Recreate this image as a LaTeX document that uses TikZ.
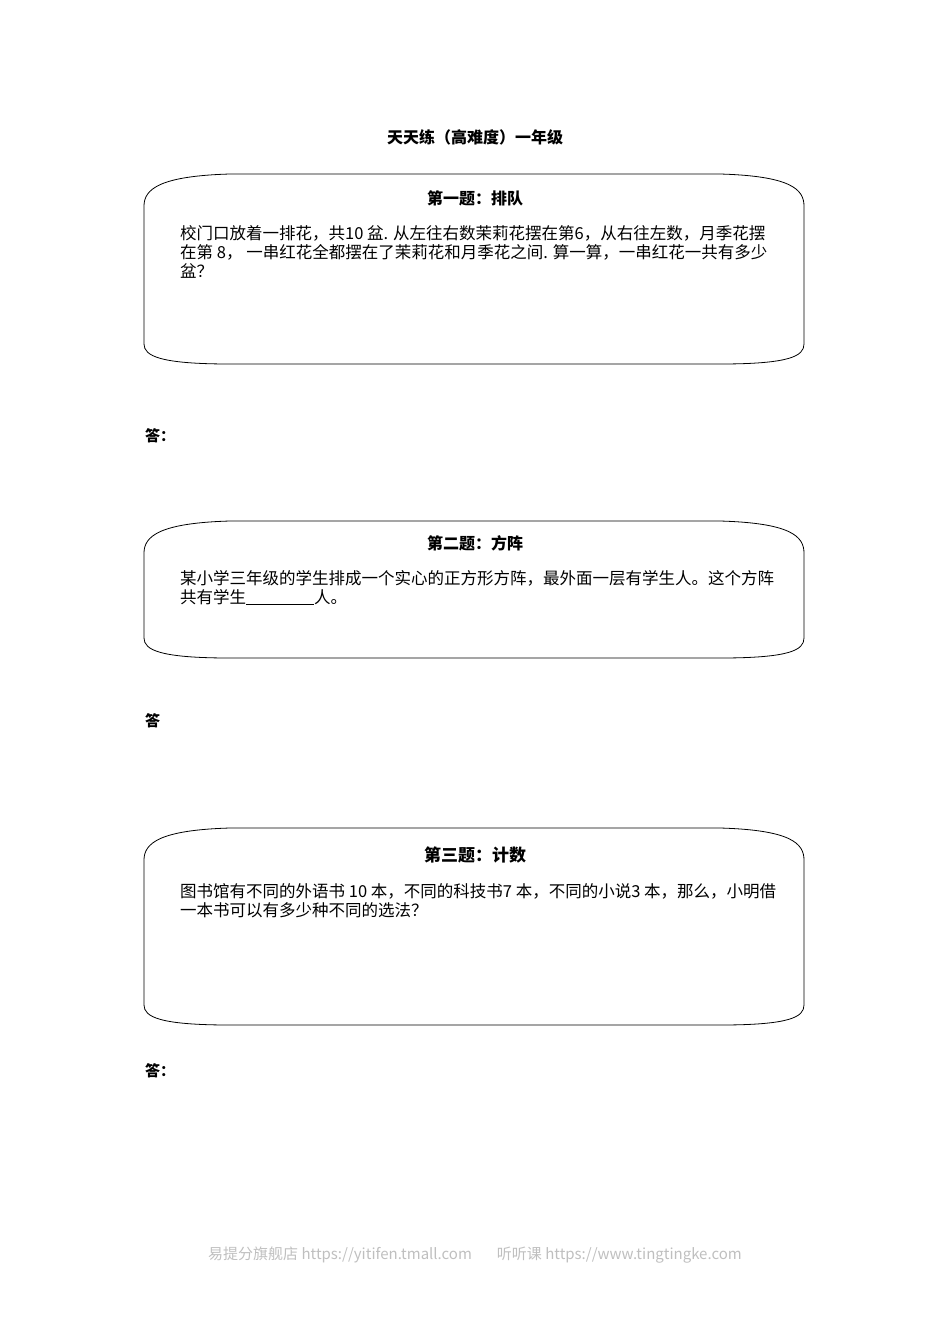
\documentclass[tikz,border=0pt]{standalone}
\usepackage{fontspec}
\setmainfont{Liberation Serif}
\newfontfamily\cjk{Noto Sans CJK SC}
\begin{document}
\begin{tikzpicture}[x=1pt,y=-1pt,
  qbox/.style={draw,line width=0.8pt},
  ttl/.style={font=\cjk\bfseries\fontsize{16}{18}\selectfont},
  body/.style={font=\cjk\fontsize{16.5}{19}\selectfont,align=left,anchor=north west,inner sep=0pt},
  ans/.style={font=\cjk\bfseries\fontsize{15}{18}\selectfont,anchor=west,inner sep=0pt}]
\useasboundingbox (0,0) rectangle (950,1344);
\newcommand{\qshape}[2]{%
  \draw[qbox] (230,#1) -- (720,#1) .. controls (790,#1+2) and (804,#1+15) .. (804,#1+32)
   -- (804,#2-20) .. controls (804,#2-8) and (790,#2) .. (720,#2) -- (230,#2)
   .. controls (160,#2) and (144,#2-8) .. (144,#2-20) -- (144,#1+32)
   .. controls (144,#1+15) and (160,#1+2) .. (230,#1) -- cycle;}
\node[ttl] (title) at (475,137) {天天练（高难度）一年级};
\qshape{174}{364}
\node[ttl] (t1) at (475,198) {第一题：排队};
\node[body] (b1) at (180,225) {校门口放着一排花，共10 盆. 从左往右数茉莉花摆在第6，从右往左数，月季花摆\\在第 8， 一串红花全都摆在了茉莉花和月季花之间. 算一算，一串红花一共有多少\\盆？};
\node[ans] (a1) at (145,436) {答：};
\qshape{521}{658}
\node[ttl] (t2) at (475,543) {第二题：方阵};
\node[body] (b2) at (180,570) {某小学三年级的学生排成一个实心的正方形方阵，最外面一层有学生人。这个方阵\\共有学生\underline{\hspace{68pt}}人。};
\node[ans] (a2) at (145,721) {答};
\qshape{828}{1025}
\node[ttl,font=\cjk\bfseries\fontsize{17}{19}\selectfont] (t3) at (475,855) {第三题：计数};
\node[body] (b3) at (180,883) {图书馆有不同的外语书 10 本，不同的科技书7 本，不同的小说3 本，那么，小明借\\一本书可以有多少种不同的选法？};
\node[ans] (a3) at (145,1071) {答：};
\node[font=\cjk\fontsize{15}{16}\selectfont,text=black!25] (foot) at (475,1255) {易提分旗舰店 https://yitifen.tmall.com\hspace{25pt}听听课 https://www.tingtingke.com};
\end{tikzpicture}
\end{document}
